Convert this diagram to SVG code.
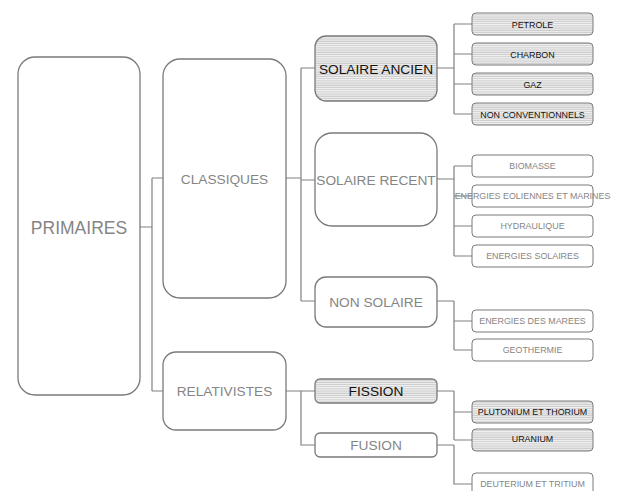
<svg xmlns="http://www.w3.org/2000/svg" width="619" height="491" viewBox="0 0 619 491">
<defs>
<pattern id="hatch" width="4" height="2.2" patternUnits="userSpaceOnUse">
<rect width="4" height="2.2" fill="#f3f3f3"/>
<rect y="1.1" width="4" height="1.1" fill="#cbcbcb"/>
</pattern>
</defs>
<style>
.box{fill:#fff;stroke:#7a7a7a;stroke-width:1.3}
.hb{fill:url(#hatch);stroke:#7a7a7a;stroke-width:1.3}
.sm{fill:#fff;stroke:#7a7a7a;stroke-width:1}
.smh{fill:url(#hatch);stroke:#7a7a7a;stroke-width:1}
.t{font-family:"Liberation Sans",Arial,sans-serif;text-anchor:middle;dominant-baseline:central;fill:#858585}
.big{font-size:17.5px}
.mid{font-size:13.7px}
.s{font-size:8.9px}
.dk{fill:#111}
.c{fill:none;stroke:#808080;stroke-width:1.2}
</style>
<rect width="619" height="491" fill="#fff"/>
<g id="connectors">
<path class="c" d="M140 227H152M152 178V391M152 178H163M152 391H163"/>
<path class="c" d="M286 178H301M301 68V301M301 68H315M301 180H315M301 301H315"/>
<path class="c" d="M286 391H315M301 391V445H315"/>
<path class="c" d="M437 68H454M454 24V114M454 24H472M454 54H472M454 84H472M454 114H472"/>
<path class="c" d="M437 179H454M454 166V256M454 166H472M454 196H472M454 226H472M454 256H472"/>
<path class="c" d="M437 301H454M454 301V350M454 321H472M454 350H472"/>
<path class="c" d="M437 391H454M454 391V440M454 412H472M454 440H472"/>
<path class="c" d="M437 445H454M454 445V484H472"/>
</g>
<g id="primaires"><rect class="box" x="18" y="57" width="122" height="338" rx="17"/><text class="t big" x="79" y="228">PRIMAIRES</text></g>
<g id="classiques"><rect class="box" x="163" y="59" width="123" height="239" rx="17"/><text class="t mid" x="224.5" y="179">CLASSIQUES</text></g>
<g id="relativistes"><rect class="box" x="163" y="352" width="123" height="78" rx="13"/><text class="t mid" x="224.5" y="391">RELATIVISTES</text></g>
<g id="solaire-ancien"><rect class="hb" x="315" y="36" width="122" height="65" rx="11"/><text class="t mid dk" x="376" y="69">SOLAIRE ANCIEN</text></g>
<g id="solaire-recent"><rect class="box" x="315" y="133" width="122" height="93" rx="17"/><text class="t mid" x="376" y="180">SOLAIRE RECENT</text></g>
<g id="non-solaire"><rect class="box" x="315" y="277" width="122" height="50" rx="11"/><text class="t mid" x="376" y="302">NON SOLAIRE</text></g>
<g id="fission"><rect class="hb" x="315" y="379" width="122" height="24" rx="5"/><text class="t mid dk" x="376" y="391.5">FISSION</text></g>
<g id="fusion"><rect class="box" x="315" y="433" width="122" height="24" rx="5"/><text class="t mid" x="376" y="445.5">FUSION</text></g>
<g id="petrole"><rect class="smh" x="472" y="13" width="121" height="22" rx="4"/><text class="t s dk" x="532.5" y="24.5">PETROLE</text></g>
<g id="charbon"><rect class="smh" x="472" y="43" width="121" height="22" rx="4"/><text class="t s dk" x="532.5" y="54.5">CHARBON</text></g>
<g id="gaz"><rect class="smh" x="472" y="73" width="121" height="22" rx="4"/><text class="t s dk" x="532.5" y="84.5">GAZ</text></g>
<g id="non-conventionnels"><rect class="smh" x="472" y="103" width="121" height="22" rx="4"/><text class="t s dk" x="532.5" y="114.5">NON CONVENTIONNELS</text></g>
<g id="biomasse"><rect class="sm" x="472" y="155" width="121" height="22" rx="4"/><text class="t s" x="532.5" y="166">BIOMASSE</text></g>
<g id="eoliennes"><rect class="sm" x="472" y="185" width="121" height="22" rx="4"/><text class="t s" x="532.5" y="196">ENERGIES EOLIENNES ET MARINES</text></g>
<g id="hydraulique"><rect class="sm" x="472" y="215" width="121" height="22" rx="4"/><text class="t s" x="532.5" y="226">HYDRAULIQUE</text></g>
<g id="energies-solaires"><rect class="sm" x="472" y="245" width="121" height="22" rx="4"/><text class="t s" x="532.5" y="256">ENERGIES SOLAIRES</text></g>
<g id="marees"><rect class="sm" x="472" y="310" width="121" height="22" rx="4"/><text class="t s" x="532.5" y="321">ENERGIES DES MAREES</text></g>
<g id="geothermie"><rect class="sm" x="472" y="339" width="121" height="22" rx="4"/><text class="t s" x="532.5" y="350">GEOTHERMIE</text></g>
<g id="plutonium"><rect class="smh" x="472" y="401" width="121" height="22" rx="4"/><text class="t s dk" x="532.5" y="412">PLUTONIUM ET THORIUM</text></g>
<g id="uranium"><rect class="smh" x="472" y="429" width="121" height="22" rx="4"/><text class="t s dk" x="532.5" y="439">URANIUM</text></g>
<g id="deuterium"><rect class="sm" x="472" y="473" width="121" height="22" rx="4"/><text class="t s" x="532.5" y="484">DEUTERIUM ET TRITIUM</text></g>
</svg>
